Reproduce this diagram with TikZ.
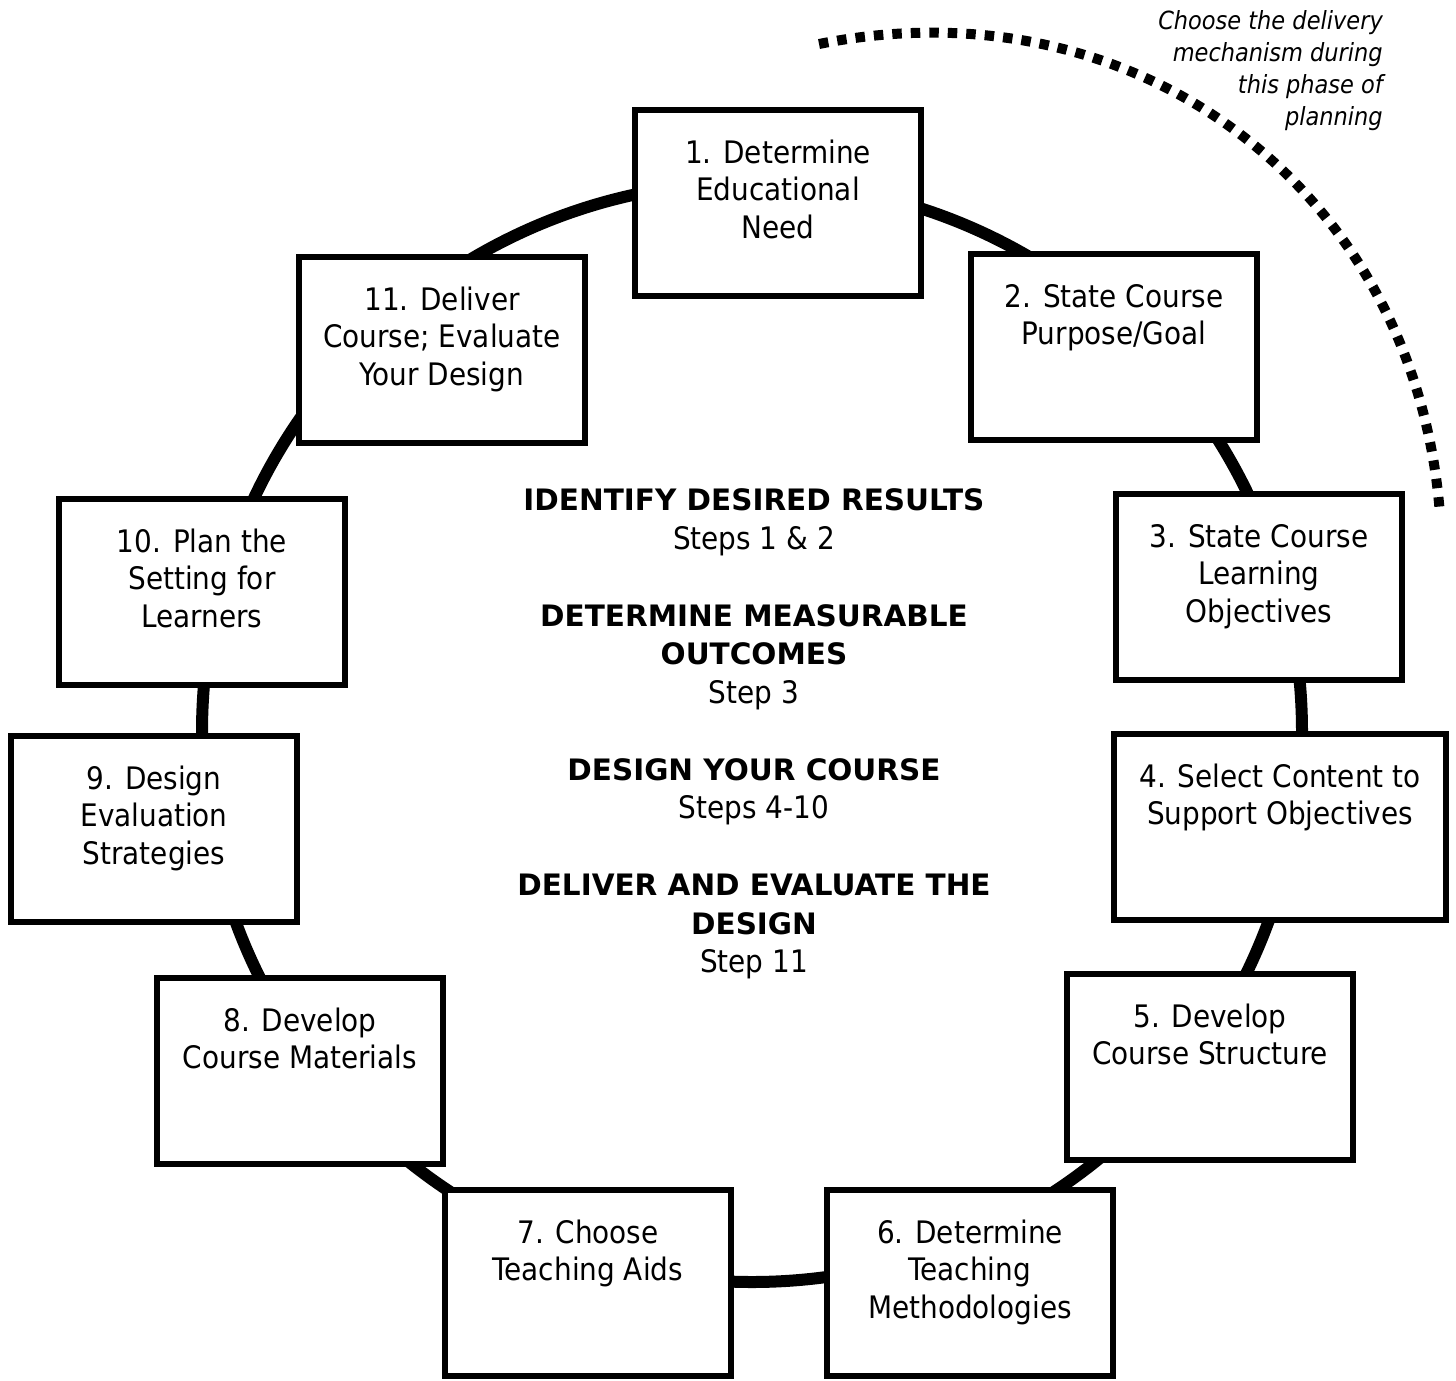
\documentclass[tikz,border=0pt]{standalone}
\usepackage{fontspec}
\setmainfont{DejaVu Sans Condensed}
\newfontfamily\headfamily{DejaVu Sans}
% text of a step box: fixed size, lines hung from the top
\newcommand\stepbody[2][286]{%
  \parbox[c][186pt][t]{#1pt}{\centering\fontsize{31}{37.5}\selectfont
    \rule{0pt}{53pt}#2}}
\newcommand\phasehead[1]{{\headfamily\fontsize{29.5}{38.5}\selectfont\bfseries #1}}
\begin{document}
\begin{tikzpicture}[x=1pt,y=1pt,
  stepbox/.style={draw, line width=6pt, fill=white, rectangle, inner sep=0pt},
  ring/.style={line width=12pt},
  phaseline/.style={line width=10pt, dash pattern=on 9.5pt off 9pt}]
\useasboundingbox (0,0) rectangle (1456,-1381);

% the cycle ring behind the steps
\coordinate (hub) at (752,-732);
\draw[ring] (hub) circle[radius=550];

% planning-phase arc
\coordinate (phasestart) at (819,-44);
\coordinate (phaseend) at (1440,-515);
\draw[phaseline] (phasestart) .. controls (1138,19.7) and (1416,-191) .. (phaseend);

\node[anchor=base east, inner sep=0pt] (note) at (1383,-30)
  {\parbox[t]{320pt}{\raggedleft\fontsize{25}{31.7}\selectfont\itshape
   Choose the delivery\\mechanism during\\this phase of\\planning}};

% the eleven steps
\node[stepbox] (s1)  at (778,-203)  {\stepbody{1. Determine\\Educational\\Need}};
\node[stepbox] (s2)  at (1114,-347) {\stepbody{2. State Course\\Purpose/Goal}};
\node[stepbox] (s3)  at (1259,-587) {\stepbody{3. State Course\\Learning\\Objectives}};
\node[stepbox] (s4)  at (1280,-827) {\stepbody[332]{4. Select Content to\\Support Objectives}};
\node[stepbox] (s5)  at (1210,-1067){\stepbody{5. Develop\\Course Structure}};
\node[stepbox] (s6)  at (970,-1283) {\stepbody{6. Determine\\Teaching\\Methodologies}};
\node[stepbox] (s7)  at (588,-1283) {\stepbody{7. Choose\\Teaching Aids}};
\node[stepbox] (s8)  at (300,-1071) {\stepbody{8. Develop\\Course Materials}};
\node[stepbox] (s9)  at (154,-829)  {\stepbody{9. Design\\Evaluation\\Strategies}};
\node[stepbox] (s10) at (202,-592)  {\stepbody{10. Plan the\\Setting for\\Learners}};
\node[stepbox] (s11) at (442,-350)  {\stepbody{11. Deliver\\Course; Evaluate\\Your Design}};

% phases in the middle
\node[anchor=base, inner sep=0pt] (phases) at (754,-510.7)
  {\parbox[t]{600pt}{\centering\fontsize{31}{38.5}\selectfont
    \phasehead{IDENTIFY DESIRED RESULTS}\\
    Steps 1 \& 2\\[38.5pt]
    \phasehead{DETERMINE MEASURABLE}\\
    \phasehead{OUTCOMES}\\
    Step 3\\[38.5pt]
    \phasehead{DESIGN YOUR COURSE}\\
    Steps 4-10\\[38.5pt]
    \phasehead{DELIVER AND EVALUATE THE}\\
    \phasehead{DESIGN}\\
    Step 11}};
\end{tikzpicture}
\end{document}
